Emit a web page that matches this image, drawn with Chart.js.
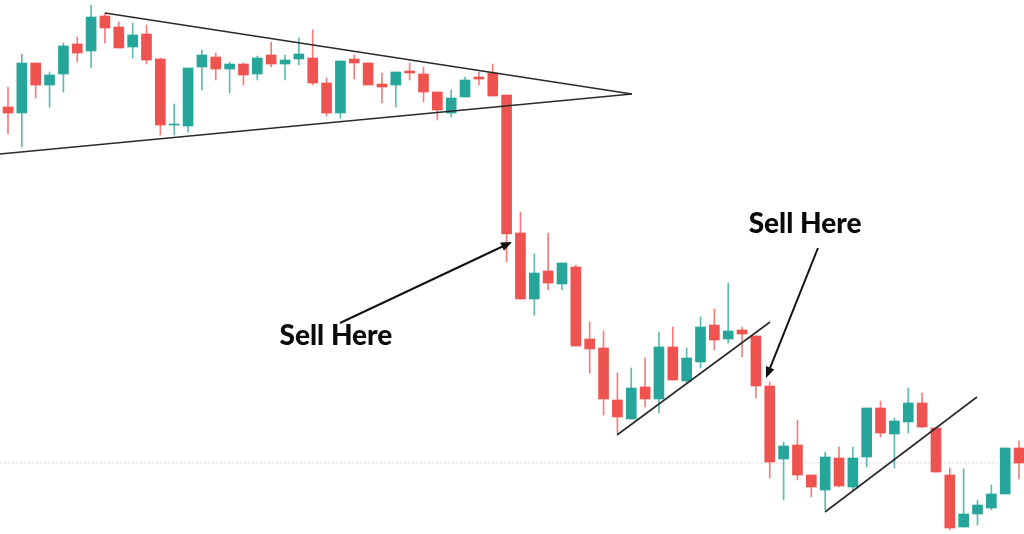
<!DOCTYPE html>
<html>
<head>
<meta charset="utf-8">
<script src="https://cdn.jsdelivr.net/npm/chart.js@4"></script>
<style>
html,body{margin:0;padding:0;background:#fff;}
#wrap{width:1024px;height:534px;position:relative;}
</style>
</head>
<body>
<div id="wrap"><canvas id="c" width="1024" height="534"></canvas></div>
<script>
// Candle data (arbitrary price units)
const opens  = [427,421,471,449,460,490,483,518,507,487,500,475,409,408,467,477,465,470,460,479,470,475,476,451,421,475,471,450,449,463,460,442,421,437,457,461,439,301,235,263,250,267,195,186,134,115,147,135,187,153,172,209,195,204,198,148,75,89,59,44,76,47,77,126,100,112,131,106,59,7,20,26,40,86];
const highs  = [447,480,471,462,491,497,529,521,512,511,509,476,430,466,484,481,472,471,478,492,479,496,504,456,473,479,471,461,462,471,467,442,444,457,462,470,439,322,280,301,271,269,212,203,161,166,176,202,207,186,217,225,251,207,198,152,92,114,59,82,87,87,126,133,116,146,141,106,66,65,34,49,86,93];
const lows   = [400,387,436,427,442,472,466,491,486,476,470,399,399,402,444,454,441,449,454,467,454,469,449,418,416,455,449,431,427,454,432,414,417,437,449,438,272,235,219,244,244,188,161,119,101,115,127,121,154,151,166,184,191,177,136,56,34,54,37,24,47,44,67,97,66,101,106,62,4,7,9,24,40,55];
const closes = [421,471,449,459,488,481,517,506,486,499,474,409,410,466,479,465,470,459,476,470,474,480,451,421,473,471,449,447,462,461,442,424,436,454,455,438,300,235,261,251,271,188,185,135,117,146,135,187,154,176,207,194,203,200,148,72,88,59,47,77,48,76,126,101,113,131,107,62,6,20,29,40,86,71];

// Current price line
const priceLine = 71;

// Trend lines: [x1, y1, x2, y2] in (candle index, price)
const triangleUpper = [7.0, 521, 45.05, 440];
const triangleLower = [-0.58, 380, 45.05, 440];
const channelA = [43.97, 99, 55.02, 212];
const channelB = [58.99, 22, 69.96, 137];

// Annotation arrows [fromX, fromY, toX, toY] and labels [x, y, text]
const arrows = [[23.97, 211, 36.39, 292], [58.48, 286, 54.73, 156]];
const labels = [[23.68, 198, 'Sell Here'], [57.55, 310, 'Sell Here']];

const GREEN = '#26a69a', RED = '#ef5350';
const idx = opens.map((_, i) => i);
const colors = idx.map(i => closes[i] >= opens[i] ? GREEN : RED);
const wickColors = idx.map(i => closes[i] >= opens[i] ? 'rgba(38,166,154,0.75)' : 'rgba(239,83,80,0.75)');

function seg(a){ return [{x:a[0], y:a[1]}, {x:a[2], y:a[3]}]; }
function lineDs(a, color, width, order, dash){
  return {type:'line', data:seg(a), borderColor:color, borderWidth:width, pointRadius:0,
          borderDash:dash||[], order:order, fill:false, tension:0};
}

const annotationPlugin = {
  id:'annot',
  afterDatasetsDraw(chart){
    const ctx = chart.ctx, xs = chart.scales.x, ys = chart.scales.y;
    ctx.save();
    ctx.fillStyle = '#111';
    arrows.forEach(a => {
      const x1 = xs.getPixelForValue(a[0]), y1 = ys.getPixelForValue(a[1]);
      const x2 = xs.getPixelForValue(a[2]), y2 = ys.getPixelForValue(a[3]);
      const ang = Math.atan2(y2 - y1, x2 - x1);
      const L = 11, W = 4.5;
      ctx.beginPath();
      ctx.moveTo(x2, y2);
      ctx.lineTo(x2 - L*Math.cos(ang) + W*Math.sin(ang), y2 - L*Math.sin(ang) - W*Math.cos(ang));
      ctx.lineTo(x2 - L*Math.cos(ang) - W*Math.sin(ang), y2 - L*Math.sin(ang) + W*Math.cos(ang));
      ctx.closePath();
      ctx.fill();
    });
    ctx.font = '900 28px Lato, "Open Sans", sans-serif';
    ctx.textAlign = 'center';
    ctx.textBaseline = 'middle';
    ctx.fillStyle = '#0a0a0a';
    labels.forEach(l => {
      ctx.fillText(l[2], xs.getPixelForValue(l[0]), ys.getPixelForValue(l[1]));
    });
    ctx.restore();
  }
};

// Arrow shafts shortened slightly so the head caps them
function shaft(a){
  const dx = a[2]-a[0], dy = a[3]-a[1];
  return [a[0], a[1], a[2]-dx*0.04, a[3]-dy*0.04];
}

new Chart(document.getElementById('c'), {
  data: {
    datasets: [
      lineDs([-2, priceLine, 80, priceLine], '#d8d8d8', 1, 10, [2,2]),
      {type:'bar', data: idx.map(i => ({x:i, y:[lows[i], highs[i]]})), backgroundColor: wickColors,
       barThickness: 1, grouped:false, order: 3},
      {type:'bar', data: idx.map(i => ({x:i, y:[opens[i], closes[i]]})), backgroundColor: colors,
       barThickness: 10, grouped:false, order: 2, minBarLength: 1},
      lineDs(triangleUpper, '#2a2a2a', 1.6, 1),
      lineDs(triangleLower, '#2a2a2a', 1.6, 1),
      lineDs(channelA, '#2a2a2a', 1.6, 1),
      lineDs(channelB, '#2a2a2a', 1.6, 1),
      lineDs(shaft(arrows[0]), '#111', 2, 0),
      lineDs(shaft(arrows[1]), '#111', 2, 0)
    ]
  },
  options: {
    responsive:false, animation:false, maintainAspectRatio:false,
    layout:{padding:0},
    plugins:{legend:{display:false}, tooltip:{enabled:false}},
    scales:{
      x:{type:'linear', display:false, min:-0.578, max:73.357, offset:false},
      y:{type:'linear', display:false, min:0, max:534}
    }
  },
  plugins:[annotationPlugin]
});
</script>
</body>
</html>
